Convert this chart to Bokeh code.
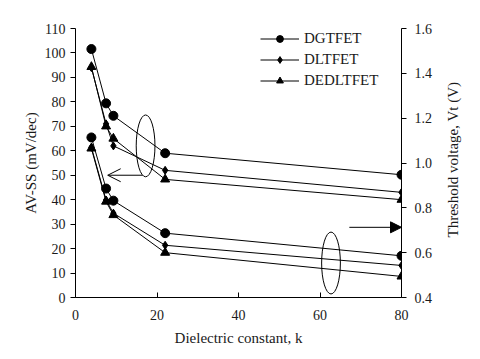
from bokeh.plotting import figure
from bokeh.models import (Range1d, LinearAxis, Arrow, OpenHead, NormalHead, Legend,
                          LegendItem, FixedTicker, PrintfTickFormatter)
from bokeh.embed import file_html
from bokeh.resources import INLINE

# Dielectric constants
k_vals = [3.9, 7.5, 9.3, 22, 80]

# AV-SS (mV/dec), left axis
ss_dgtfet = [101.6, 79.4, 74.3, 59.0, 50.2]
ss_dltfet = [94.0, 71.0, 62.0, 52.0, 43.0]
ss_dedltfet = [94.3, 70.0, 65.0, 48.3, 40.0]

# Threshold voltage (V), right axis
vt_dgtfet = [1.114, 0.886, 0.832, 0.687, 0.586]
vt_dltfet = [1.07, 0.835, 0.776, 0.633, 0.543]
vt_dedltfet = [1.065, 0.828, 0.768, 0.600, 0.494]

series_names = ["DGTFET", "DLTFET", "DEDLTFET"]

x_ticks = [0, 20, 40, 60, 80]
left_ticks = [0, 10, 20, 30, 40, 50, 60, 70, 80, 90, 100, 110]
right_ticks = [0.4, 0.6, 0.8, 1.0, 1.2, 1.4, 1.6]

# annotation positions (data units, left axis)
ellipse_x = [17.2, 62.7]
ellipse_y = [62.0, 14.1]
ellipse_w = [4.6, 4.6]
ellipse_h = [25.3, 25.3]

FONT = "Liberation Serif"
TXT = "#1a1a1a"

p = figure(frame_width=326, frame_height=269, output_backend="svg", toolbar_location=None,
           x_range=Range1d(0, 80), y_range=Range1d(0, 110),
           min_border_left=75, min_border_right=70, min_border_top=28, min_border_bottom=54)
p.outline_line_color = None
p.grid.visible = False
p.background_fill_color = "white"

p.extra_y_ranges = {"vt": Range1d(0.4, 1.6)}

p.xaxis.ticker = FixedTicker(ticks=x_ticks)
p.yaxis.ticker = FixedTicker(ticks=left_ticks)
p.yaxis.axis_label = "AV-SS (mV/dec)"
p.xaxis.axis_label = "Dielectric constant, k"

right_label = "Threshold voltage, Vt (V)"
right = LinearAxis(y_range_name="vt", ticker=FixedTicker(ticks=right_ticks),
                   formatter=PrintfTickFormatter(format="%.1f"),
                   axis_label=right_label)
p.add_layout(right, "right")

for ax in [p.xaxis[0], p.yaxis[0], right]:
    ax.axis_line_color = "black"
    ax.major_tick_line_color = "black"
    ax.minor_tick_line_color = None
    ax.major_label_text_font = FONT
    ax.major_label_text_font_size = "14px"
    ax.major_label_text_color = TXT
    ax.axis_label_text_font = FONT
    ax.axis_label_text_font_size = "15px"
    ax.axis_label_text_font_style = "normal"
    ax.axis_label_text_color = TXT
    ax.major_tick_out = 5
    ax.major_tick_in = 0
    ax.major_label_standoff = 5
    ax.axis_label_standoff = 3

right.major_label_standoff = 8
right.axis_label_standoff = 18
props = right.properties()
if "axis_label_orientation" in props:
    right.axis_label_orientation = 1.5707963267948966
if "axis_label_align" in props:
    right.axis_label_align = "start"
    right.axis_label = "\u00a0" * 16 + right_label
p.xaxis[0].major_tick_out = 0
p.xaxis[0].major_tick_in = 5
p.xaxis[0].major_label_standoff = 12
p.xaxis[0].axis_label_standoff = 7

# data lines
ss = [ss_dgtfet, ss_dltfet, ss_dedltfet]
vt = [vt_dgtfet, vt_dltfet, vt_dedltfet]
markers = ["circle", "diamond", "triangle"]
sizes = [9, 8, 9]
items = []
for name, s1, s2, m, sz in zip(series_names, ss, vt, markers, sizes):
    l1 = p.line(k_vals, s1, line_color="black", line_width=1)
    l2 = p.scatter(k_vals, s1, marker=m, size=sz, fill_color="black", line_color="black")
    p.line(k_vals, s2, line_color="black", line_width=1, y_range_name="vt")
    p.scatter(k_vals, s2, marker=m, size=sz, fill_color="black", line_color="black", y_range_name="vt")
    items.append(LegendItem(label=name, renderers=[l1, l2]))

# ellipses
p.ellipse(x=ellipse_x, y=ellipse_y, width=ellipse_w, height=ellipse_h,
          fill_color=None, line_color="black", line_width=1)

# arrows
p.add_layout(Arrow(end=OpenHead(size=13, line_color="black", line_width=1),
                   x_start=16.5, y_start=50, x_end=7.9, y_end=50, line_color="black", line_width=1))
p.add_layout(Arrow(end=NormalHead(size=11, fill_color="black", line_color="black"),
                   x_start=67.2, y_start=28.7, x_end=80, y_end=28.7, line_color="black", line_width=1))

legend = Legend(items=items, location=(185, 208), padding=0, margin=0, spacing=4,
                glyph_width=39, glyph_height=17, label_height=17, label_standoff=5,
                label_text_font=FONT, label_text_font_size="15px", label_text_color=TXT,
                border_line_color=None, background_fill_alpha=0)
p.add_layout(legend, "center")

open("out.html", "w").write(file_html(p, INLINE))
